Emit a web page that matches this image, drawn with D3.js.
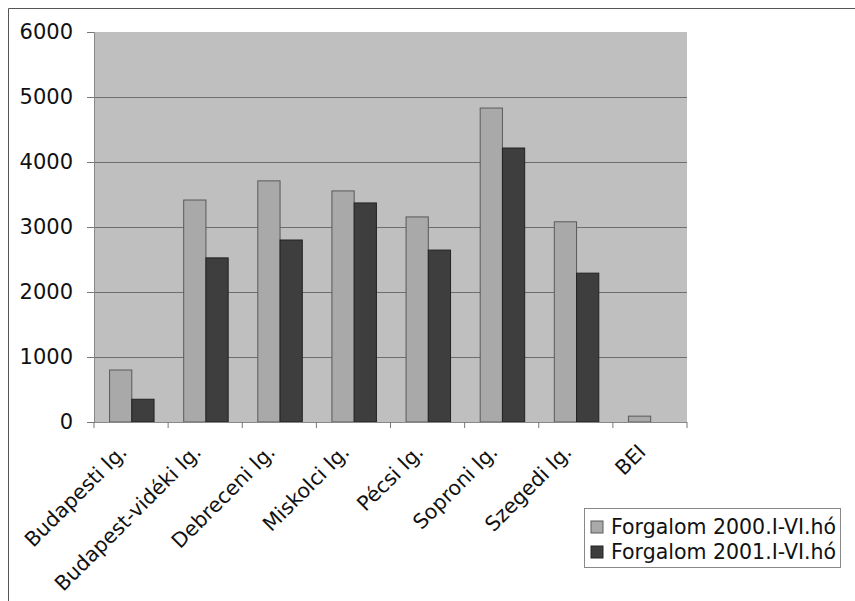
<!DOCTYPE html>
<html>
<head>
<meta charset="utf-8">
<script src="https://cdn.jsdelivr.net/npm/d3@7"></script>
<style>
  html, body { margin: 0; padding: 0; background: #fff; }
  svg { display: block; font-family: "DejaVu Sans", Verdana, sans-serif; }
</style>
</head>
<body>
<svg id="chart" width="855" height="601"></svg>
<script>
// Branch categories (x axis)
const categories = ["Budapesti lg.", "Budapest-vidéki lg.", "Debreceni lg.", "Miskolci lg.",
                    "Pécsi lg.", "Soproni lg.", "Szegedi lg.", "BEI"];
// Series names
const seriesNames = ["Forgalom 2000.I-VI.hó", "Forgalom 2001.I-VI.hó"];
// Turnover, first half of each year
const values2000 = [800, 3415, 3710, 3555, 3155, 4830, 3080, 90];
const values2001 = [350, 2525, 2800, 3370, 2645, 4215, 2290, 0];
// Y axis ticks
const yTicks = [0, 1000, 2000, 3000, 4000, 5000, 6000];

const seriesValues = [values2000, values2001];
const fills = ["#a9a9a9", "#3e3e3e"];
const strokes = ["#5a5a5a", "#222"];

const svg = d3.select("#chart");

// outer chart frame
svg.append("path")
  .attr("d", "M8.5,601 V8.5 H855")
  .attr("fill", "none").attr("stroke", "#555").attr("stroke-width", 1);

const plot = { left: 94, right: 687, top: 32, bottom: 422 };

const x = d3.scaleBand().domain(categories).range([plot.left, plot.right]).paddingInner(0).paddingOuter(0);
const y = d3.scaleLinear().domain([0, 6000]).range([plot.bottom, plot.top]);

// plot area background
svg.append("rect")
  .attr("x", plot.left).attr("y", plot.top)
  .attr("width", plot.right - plot.left).attr("height", plot.bottom - plot.top)
  .attr("fill", "#bfbfbf");

// horizontal gridlines
svg.append("g").selectAll("line")
  .data(yTicks.filter(t => t > 0 && t < 6000))
  .join("line")
  .attr("x1", plot.left).attr("x2", plot.right)
  .attr("y1", d => Math.round(y(d)) + 0.5).attr("y2", d => Math.round(y(d)) + 0.5)
  .attr("stroke", "#6e6e6e").attr("stroke-width", 1.2);

// bars
const step = x.step();
const bw = step * 0.30;
const off = step * 0.21;
seriesValues.forEach((vals, s) => {
  svg.append("g").selectAll("rect")
    .data(categories.map((c, i) => ({ c, v: vals[i] })).filter(d => d.v > 0))
    .join("rect")
    .attr("x", d => x(d.c) + off + s * bw)
    .attr("y", d => y(d.v))
    .attr("width", bw)
    .attr("height", d => y(0) - y(d.v))
    .attr("fill", fills[s])
    .attr("stroke", strokes[s])
    .attr("stroke-width", 1);
});

// y axis
const yAxis = d3.axisLeft(y).tickValues(yTicks).tickSize(7).tickPadding(14).tickFormat(d3.format("d"));
const gy = svg.append("g").attr("transform", `translate(${plot.left},0)`).call(yAxis);
gy.select(".domain").attr("stroke", "#888");
gy.selectAll(".tick line").attr("stroke", "#777");
gy.selectAll(".tick text").attr("font-size", 21).attr("fill", "#111").attr("font-family", "DejaVu Sans, Verdana, sans-serif");

// x axis: ticks at category boundaries
svg.append("line")
  .attr("x1", plot.left).attr("x2", plot.right)
  .attr("y1", plot.bottom + 0.5).attr("y2", plot.bottom + 0.5)
  .attr("stroke", "#888");
svg.append("g").selectAll("line")
  .data(d3.range(categories.length + 1))
  .join("line")
  .attr("x1", i => plot.left + i * step).attr("x2", i => plot.left + i * step)
  .attr("y1", plot.bottom).attr("y2", plot.bottom + 6)
  .attr("stroke", "#777");

// rotated category labels
svg.append("g").selectAll("text")
  .data(categories)
  .join("text")
  .attr("transform", d => `translate(${x(d) + step / 2 - 13},${plot.bottom + 21}) rotate(-45)`)
  .attr("text-anchor", "end")
  .attr("dy", "0.7em")
  .attr("font-size", 20.5)
  .attr("fill", "#111")
  .text(d => d);

// legend
const lg = svg.append("g").attr("transform", "translate(584,508)");
lg.append("rect").attr("x", 0.5).attr("y", 0.5).attr("width", 256).attr("height", 59)
  .attr("fill", "#fff").attr("stroke", "#888");
seriesNames.forEach((name, i) => {
  const row = lg.append("g").attr("transform", `translate(0,${19 + i * 25})`);
  row.append("rect").attr("x", 7).attr("y", -6).attr("width", 12).attr("height", 12)
    .attr("fill", fills[i]).attr("stroke", strokes[i]);
  row.append("text").attr("x", 27).attr("y", 0).attr("dy", "0.36em")
    .attr("font-size", 20.5).attr("fill", "#111").text(name);
});
</script>
</body>
</html>
